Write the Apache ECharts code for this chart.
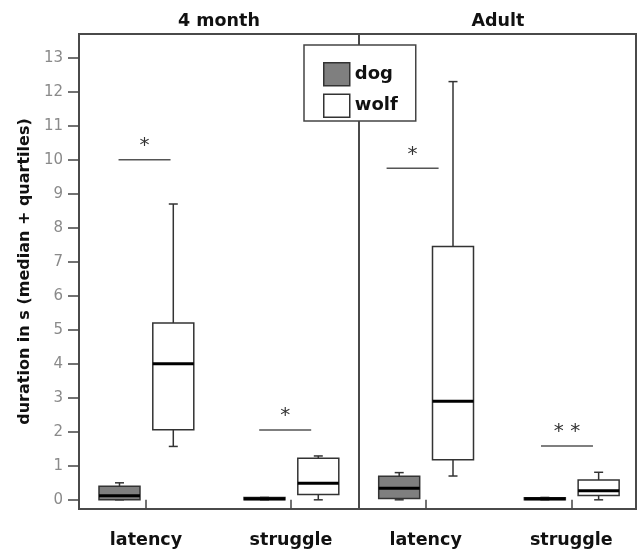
<!DOCTYPE html>
<html>
<head>
<meta charset="utf-8">
<script src="https://cdn.jsdelivr.net/npm/echarts@6/dist/echarts.min.js"></script>
<style>
  html, body { margin: 0; padding: 0; background: #fff; }
  #main { width: 638px; height: 553px; }
</style>
</head>
<body>
<div id="main"></div>
<script>
// categories on the x axis of each panel
var categories = ["latency", "struggle"];
var panels = ["4 month", "Adult"];
var yTicks = [0, 1, 2, 3, 4, 5, 6, 7, 8, 9, 10, 11, 12, 13];

// [min, q1, median, q3, max] per category
var dog4m = [[0, 0, 0.12, 0.4, 0.5], [0, 0, 0.03, 0.07, 0.07]];
var wolf4m = [[1.57, 2.06, 4.0, 5.2, 8.7], [0, 0.16, 0.49, 1.22, 1.29]];
var dogAdult = [[0, 0.04, 0.34, 0.69, 0.8], [0, 0, 0.03, 0.06, 0.07]];
var wolfAdult = [[0.7, 1.18, 2.9, 7.45, 12.3], [0, 0.13, 0.27, 0.58, 0.81]];

// significance bars: level (y), centre (x in category units), label
var sigLevel4m = [10, 2.05];
var sigX4m = [0.99, 1.96];
var sigLabel4m = ["*", "*"];
var sigLevelAdult = [9.75, 1.58];
var sigXAdult = [0.91, 1.97];
var sigLabelAdult = ["*", "* *"];

var FONT = "DejaVu Sans";
var LINE = "#333";

function toRows(list) {
  return list.map(function (d, i) {
    return [i + 1].concat(d);
  });
}

function boxRender(offset) {
  return function (params, api) {
    var x = api.value(0);
    var cx = api.coord([x, 0])[0] + offset;
    var y = [];
    for (var i = 1; i <= 5; i++) y.push(api.coord([x, api.value(i)])[1]);
    var half = 20.5, cap = 4.5;
    var fill = api.visual("color");
    return {
      type: "group",
      children: [
        { type: "line", shape: { x1: cx, y1: y[0], x2: cx, y2: y[1] }, style: { stroke: LINE, lineWidth: 1.5 } },
        { type: "line", shape: { x1: cx, y1: y[3], x2: cx, y2: y[4] }, style: { stroke: LINE, lineWidth: 1.5 } },
        { type: "line", shape: { x1: cx - cap, y1: y[0], x2: cx + cap, y2: y[0] }, style: { stroke: LINE, lineWidth: 1.5 } },
        { type: "line", shape: { x1: cx - cap, y1: y[4], x2: cx + cap, y2: y[4] }, style: { stroke: LINE, lineWidth: 1.5 } },
        { type: "rect", shape: { x: cx - half, y: y[3], width: half * 2, height: y[1] - y[3] }, style: { fill: fill, stroke: LINE, lineWidth: 1.5 } },
        { type: "line", shape: { x1: cx - half, y1: y[2], x2: cx + half, y2: y[2] }, style: { stroke: "#000", lineWidth: 3 } }
      ]
    };
  };
}

function sigRender(labels) {
  return function (params, api) {
    var p = api.coord([api.value(0), api.value(1)]);
    return {
      type: "group",
      children: [
        { type: "line", shape: { x1: p[0] - 26, y1: p[1], x2: p[0] + 26, y2: p[1] }, style: { stroke: "#555", lineWidth: 1.5 } },
        {
          type: "text",
          style: {
            text: labels[params.dataIndex], x: p[0], y: p[1] - 14,
            align: "center", verticalAlign: "middle",
            font: "20px '" + FONT + "'", fill: "#333"
          }
        }
      ]
    };
  };
}

function boxSeries(name, grid, data, offset, color) {
  return {
    name: name,
    type: "custom",
    xAxisIndex: grid,
    yAxisIndex: grid,
    itemStyle: { color: color, borderColor: LINE },
    renderItem: boxRender(offset),
    encode: { x: 0, y: [1, 2, 3, 4, 5] },
    data: toRows(data),
    silent: true
  };
}

function sigSeries(grid, xs, levels, labels) {
  return {
    type: "custom",
    xAxisIndex: grid,
    yAxisIndex: grid,
    renderItem: sigRender(labels),
    encode: { x: 0, y: 1 },
    data: xs.map(function (x, i) { return [x, levels[i]]; }),
    silent: true
  };
}

function xAxis(grid, min, max) {
  return {
    type: "value",
    gridIndex: grid,
    min: min,
    max: max,
    axisLine: { show: false },
    splitLine: { show: false },
    axisTick: { show: true, customValues: [1, 2], length: 9, lineStyle: { color: "#444", width: 1.5 } },
    axisLabel: {
      customValues: [1, 2],
      formatter: function (v) { return categories[Math.round(v) - 1]; },
      margin: 22,
      fontFamily: FONT,
      fontSize: 17.5,
      fontWeight: "bold",
      color: "#111"
    }
  };
}

var myChart = echarts.init(document.getElementById("main"));

myChart.setOption({
  animation: false,
  title: [
    { text: panels[0], left: 214, top: 7, textAlign: "center",
      textStyle: { fontFamily: FONT, fontSize: 17.5, fontWeight: "bold", color: "#111" } },
    { text: panels[1], left: 493, top: 7, textAlign: "center",
      textStyle: { fontFamily: FONT, fontSize: 17.5, fontWeight: "bold", color: "#111" } }
  ],
  legend: {
    left: 304,
    top: 45,
    orient: "vertical",
    selectedMode: false,
    backgroundColor: "#fff",
    borderColor: "#444",
    borderWidth: 1.5,
    padding: [17, 18, 3, 19],
    itemGap: 7,
    itemWidth: 26,
    itemHeight: 23,
    textStyle: { fontFamily: FONT, fontSize: 18, fontWeight: "bold", color: "#111" },
    data: [
      { name: "dog", icon: "rect", itemStyle: { color: "#7f7f7f", borderColor: LINE, borderWidth: 1.5 } },
      { name: "wolf", icon: "rect", itemStyle: { color: "#fff", borderColor: LINE, borderWidth: 1.5 } }
    ],
    z: 10
  },
  grid: [
    { left: 79, right: 279, top: 34, bottom: 44, show: true, borderColor: "#4a4a4a", borderWidth: 2, backgroundColor: "transparent" },
    { left: 359, right: 2, top: 34, bottom: 44, show: true, borderColor: "#4a4a4a", borderWidth: 2, backgroundColor: "transparent" }
  ],
  xAxis: [xAxis(0, 0.538, 2.469), xAxis(1, 0.542, 2.444)],
  yAxis: [
    {
      type: "value",
      gridIndex: 0,
      min: -0.27,
      max: 13.7,
      name: "duration in s (median + quartiles)",
      nameLocation: "middle",
      nameGap: 46,
      nameTextStyle: { fontFamily: FONT, fontSize: 16, fontWeight: "bold", color: "#111" },
      axisLine: { show: false },
      splitLine: { show: false },
      axisTick: { show: true, customValues: yTicks, length: 11, lineStyle: { color: "#444", width: 1.5 } },
      axisLabel: { customValues: yTicks, margin: 16, fontFamily: FONT, fontSize: 15, color: "#8a8a8a" }
    },
    {
      type: "value",
      gridIndex: 1,
      min: -0.27,
      max: 13.7,
      axisLine: { show: false },
      splitLine: { show: false },
      axisTick: { show: false },
      axisLabel: { show: false }
    }
  ],
  series: [
    boxSeries("dog", 0, dog4m, -26.5, "#7f7f7f"),
    boxSeries("wolf", 0, wolf4m, 27.3, "#fff"),
    boxSeries("dog", 1, dogAdult, -26.5, "#7f7f7f"),
    boxSeries("wolf", 1, wolfAdult, 27.3, "#fff"),
    sigSeries(0, sigX4m, sigLevel4m, sigLabel4m),
    sigSeries(1, sigXAdult, sigLevelAdult, sigLabelAdult)
  ]
});
</script>
</body>
</html>
